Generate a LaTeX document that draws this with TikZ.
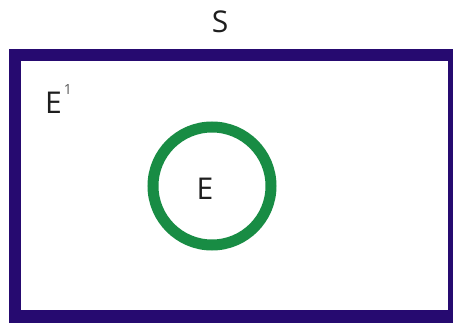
\documentclass[tikz,border=0pt]{standalone}
\usepackage{fontspec}
\setmainfont{Open Sans}
\definecolor{framepurple}{RGB}{38,10,112}
\definecolor{ringgreen}{RGB}{24,140,68}
\definecolor{textgray}{RGB}{30,30,30}
\definecolor{supgray}{RGB}{90,90,90}
\tikzset{
  lbl/.style={anchor=base, inner sep=0pt, text=textgray, font=\fontsize{30}{34}\selectfont},
}
\begin{document}
\begin{tikzpicture}[x=1pt,y=-1pt]
\useasboundingbox (0,0) rectangle (453,323);
% frame
\fill[framepurple] (9,49) rectangle (453,323);
\fill[white] (21,61) rectangle (448,310);
% ring
\node[circle, draw=ringgreen, line width=11pt, minimum size=118pt, inner sep=0pt] (E) at (212,186) {};
% labels
\node[lbl] (S) at (220,33) {S};
\node[lbl] (Elab) at (205,200) {E};
\node[lbl, anchor=base west] (Ec) at (45,114) {E\hspace{2pt}\raisebox{19pt}{\textcolor{supgray}{\fontsize{14}{14}\selectfont 1}}};
\end{tikzpicture}
\end{document}
